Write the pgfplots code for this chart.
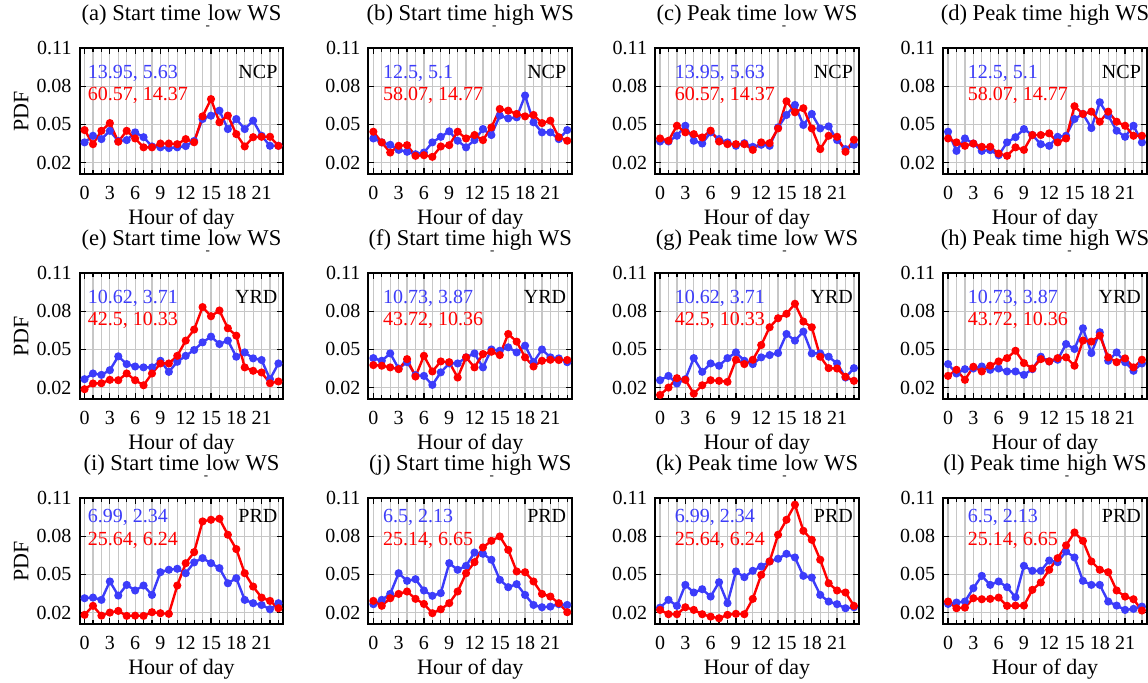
\documentclass[border=0pt]{standalone}
\usepackage{fontspec}
\setmainfont{Liberation Serif}
\usepackage{pgfplots}
\usepackage{pgfplotstable}
\pgfplotsset{compat=1.18}
\definecolor{myblue}{RGB}{60,60,250}

\pgfplotstableread{
h aB aR bB bR cB cR dB dR
0 .0359 .0456 .0390 .0443 .0366 .0390 .0443 .0390
1 .0411 .0345 .0359 .0359 .0366 .0372 .0292 .0359
2 .0385 .0450 .0340 .0279 .0411 .0490 .0390 .0332
3 .0450 .0511 .0300 .0332 .0490 .0438 .0350 .0350
4 .0370 .0364 .0285 .0337 .0372 .0424 .0292 .0324
5 .0377 .0450 .0266 .0253 .0350 .0398 .0298 .0324
6 .0438 .0390 .0279 .0258 .0438 .0451 .0258 .0271
7 .0400 .0320 .0359 .0245 .0385 .0366 .0359 .0253
8 .0327 .0320 .0403 .0327 .0359 .0345 .0400 .0320
9 .0320 .0350 .0446 .0337 .0332 .0345 .0464 .0300
10 .0314 .0350 .0372 .0443 .0353 .0345 .0417 .0417
11 .0320 .0345 .0320 .0390 .0324 .0300 .0345 .0417
12 .0330 .0385 .0377 .0417 .0340 .0359 .0332 .0430
13 .0370 .0360 .0464 .0377 .0332 .0353 .0403 .0359
14 .0543 .0564 .0417 .0477 .0477 .0469 .0411 .0390
15 .0569 .0700 .0570 .0622 .0575 .0683 .0543 .0644
16 .0609 .0517 .0548 .0609 .0654 .0596 .0583 .0583
17 .0464 .0570 .0556 .0583 .0496 .0628 .0472 .0601
18 .0543 .0424 .0728 .0564 .0583 .0469 .0675 .0522
19 .0464 .0327 .0517 .0575 .0469 .0306 .0570 .0601
20 .0530 .0400 .0438 .0511 .0485 .0411 .0451 .0522
21 .0411 .0403 .0438 .0530 .0377 .0403 .0403 .0490
22 .0332 .0403 .0385 .0400 .0306 .0285 .0490 .0411
23 .0332 .0332 .0456 .0372 .0340 .0380 .0359 .0411
}\rowA

\pgfplotstableread{
h eB eR fB fR gB gR hB hR
0 .0266 .0187 .0432 .0377 .0258 .0142 .0385 .0292
1 .0311 .0232 .0411 .0372 .0292 .0200 .0311 .0340
2 .0300 .0234 .0469 .0359 .0232 .0274 .0345 .0261
3 .0337 .0261 .0350 .0345 .0266 .0261 .0350 .0364
4 .0446 .0258 .0400 .0424 .0432 .0152 .0366 .0327
5 .0385 .0311 .0298 .0287 .0324 .0218 .0340 .0372
6 .0366 .0258 .0292 .0450 .0390 .0258 .0350 .0406
7 .0359 .0218 .0221 .0327 .0372 .0253 .0327 .0432
8 .0359 .0311 .0320 .0406 .0432 .0245 .0327 .0490
9 .0411 .0390 .0390 .0400 .0477 .0419 .0300 .0393
10 .0324 .0390 .0390 .0279 .0411 .0385 .0345 .0350
11 .0403 .0450 .0438 .0438 .0385 .0419 .0443 .0424
12 .0450 .0570 .0469 .0359 .0438 .0535 .0406 .0406
13 .0496 .0657 .0359 .0464 .0456 .0675 .0419 .0432
14 .0556 .0834 .0500 .0482 .0472 .0746 .0543 .0438
15 .0601 .0762 .0490 .0456 .0622 .0781 .0504 .0372
16 .0543 .0807 .0517 .0622 .0570 .0860 .0667 .0570
17 .0570 .0667 .0477 .0562 .0641 .0720 .0472 .0562
18 .0443 .0609 .0530 .0438 .0469 .0675 .0636 .0609
19 .0477 .0359 .0400 .0366 .0469 .0443 .0411 .0438
20 .0430 .0332 .0500 .0411 .0443 .0353 .0477 .0400
21 .0417 .0319 .0438 .0419 .0390 .0350 .0400 .0430
22 .0266 .0234 .0430 .0417 .0279 .0285 .0332 .0359
23 .0390 .0248 .0400 .0417 .0353 .0253 .0390 .0419
}\rowB

\pgfplotstableread{
h iB iR jB jR kB kR lB lR
0 .0313 .0182 .0266 .0292 .0239 .0221 .0268 .0287
1 .0318 .0253 .0300 .0253 .0300 .0187 .0279 .0234
2 .0300 .0176 .0347 .0313 .0253 .0187 .0287 .0239
3 .0445 .0200 .0510 .0347 .0418 .0242 .0392 .0313
4 .0334 .0213 .0450 .0366 .0358 .0221 .0489 .0305
5 .0418 .0174 .0463 .0308 .0384 .0187 .0418 .0308
6 .0374 .0176 .0374 .0268 .0326 .0168 .0445 .0318
7 .0413 .0174 .0332 .0195 .0439 .0155 .0400 .0253
8 .0339 .0203 .0353 .0226 .0274 .0182 .0321 .0255
9 .0518 .0195 .0589 .0274 .0524 .0190 .0568 .0255
10 .0537 .0190 .0537 .0366 .0479 .0187 .0529 .0379
11 .0545 .0413 .0568 .0510 .0529 .0308 .0529 .0437
12 .0510 .0589 .0673 .0597 .0563 .0497 .0610 .0537
13 .0595 .0676 .0663 .0713 .0603 .0603 .0597 .0629
14 .0629 .0918 .0616 .0765 .0624 .0813 .0681 .0729
15 .0589 .0931 .0458 .0800 .0663 .0931 .0634 .0831
16 .0550 .0939 .0400 .0694 .0634 .1050 .0450 .0765
17 .0431 .0813 .0424 .0524 .0489 .0844 .0418 .0603
18 .0471 .0700 .0339 .0518 .0476 .0773 .0418 .0537
19 .0300 .0510 .0260 .0445 .0339 .0616 .0287 .0518
20 .0274 .0405 .0242 .0347 .0287 .0431 .0255 .0374
21 .0260 .0318 .0247 .0326 .0266 .0374 .0221 .0326
22 .0226 .0292 .0266 .0274 .0234 .0358 .0229 .0305
23 .0274 .0234 .0260 .0203 .0242 .0253 .0247 .0216
}\rowC

\newcommand{\us}{\hspace{3.5pt}\makebox[0pt]{\raisebox{-4.6pt}{\fontsize{6.5}{6.5}\selectfont -}}}

\pgfplotsset{
  pnl/.style={
    width=102pt, height=62.85pt, scale only axis, anchor=north west,
    xmin=-0.6, xmax=23.6, ymin=0.011, ymax=0.11,
    xtick={0,3,...,21}, minor xtick={0,...,23},
    ytick={0.02,0.05,0.08,0.11},
    /pgf/number format/assume math mode=true,
    grid=both,
    major grid style={draw=black!22, line width=0.6pt},
    minor grid style={draw=black!22, line width=0.6pt},
    tick align=inside, major tick length=3pt, minor tick length=2pt,
    every tick/.style={black, line width=0.6pt},
    axis line style={line width=1pt},
    tick label style={font=\fontsize{10}{12}\selectfont},
    xticklabel style={anchor=base, yshift=-13pt, inner sep=0pt},
    yticklabel style={anchor=east, inner sep=0pt, xshift=-3.8pt,
      /pgf/number format/fixed, /pgf/number format/fixed zerofill,
      /pgf/number format/precision=2},
    xlabel={Hour of day},
    xlabel style={at={(axis description cs:0.5,0)}, anchor=base, yshift=-25.5pt, font=\fontsize{11}{13}\selectfont},
    title style={at={(axis description cs:0.5,1)}, anchor=base, yshift=8pt, font=\fontsize{11.3}{13}\selectfont},
    ylabel style={at={(axis description cs:-0.286,0.5)}, anchor=center, font=\fontsize{11}{13}\selectfont},
  },
  bl/.style={color=myblue, line width=1.2pt, mark=*, mark size=1.4pt},
  rd/.style={color=red, line width=1.2pt, mark=*, mark size=1.4pt},
}
\tikzset{
  tb/.style={anchor=base west, inner sep=0pt, text=myblue, font=\fontsize{10}{12}\selectfont},
  tr/.style={anchor=base west, inner sep=0pt, text=red, font=\fontsize{10}{12}\selectfont},
  tk/.style={anchor=base east, inner sep=0pt, text=black, font=\fontsize{10}{12}\selectfont},
}

\begin{document}
\begin{tikzpicture}
\useasboundingbox (0,0) rectangle (574pt,-341pt);
% ---------- row 1 ----------
\begin{axis}[pnl, at={(39.75pt,-24.15pt)}, title={(a) Start time\us low WS}, ylabel={PDF}]
\addplot[bl] table[x=h,y=aB]{\rowA};
\addplot[rd] table[x=h,y=aR]{\rowA};
\node[tb] at (rel axis cs:0.039,0.756) {13.95, 5.63};
\node[tr] at (rel axis cs:0.039,0.581) {60.57, 14.37};
\node[tk] at (rel axis cs:0.972,0.756) {NCP};
\end{axis}
\begin{axis}[pnl, at={(184.15pt,-24.15pt)}, title={(b) Start time\us high WS}]
\addplot[bl] table[x=h,y=bB]{\rowA};
\addplot[rd] table[x=h,y=bR]{\rowA};
\node[tb] at (rel axis cs:0.071,0.756) {12.5, 5.1};
\node[tr] at (rel axis cs:0.071,0.581) {58.07, 14.77};
\node[tk] at (rel axis cs:0.972,0.756) {NCP};
\end{axis}
\begin{axis}[pnl, at={(327.5pt,-24.15pt)}, title={(c) Peak time\us low WS}]
\addplot[bl] table[x=h,y=cB]{\rowA};
\addplot[rd] table[x=h,y=cR]{\rowA};
\node[tb] at (rel axis cs:0.096,0.756) {13.95, 5.63};
\node[tr] at (rel axis cs:0.096,0.581) {60.57, 14.37};
\node[tk] at (rel axis cs:0.972,0.756) {NCP};
\end{axis}
\begin{axis}[pnl, at={(471.5pt,-24.15pt)}, title={(d) Peak time\us high WS}]
\addplot[bl] table[x=h,y=dB]{\rowA};
\addplot[rd] table[x=h,y=dR]{\rowA};
\node[tb] at (rel axis cs:0.12,0.756) {12.5, 5.1};
\node[tr] at (rel axis cs:0.12,0.581) {58.07, 14.77};
\node[tk] at (rel axis cs:0.972,0.756) {NCP};
\end{axis}
% ---------- row 2 ----------
\begin{axis}[pnl, at={(39.75pt,-136.65pt)}, title={(e) Start time\us low WS}, ylabel={PDF}]
\addplot[bl] table[x=h,y=eB]{\rowB};
\addplot[rd] table[x=h,y=eR]{\rowB};
\node[tb] at (rel axis cs:0.039,0.756) {10.62, 3.71};
\node[tr] at (rel axis cs:0.039,0.581) {42.5, 10.33};
\node[tk] at (rel axis cs:0.972,0.756) {YRD};
\end{axis}
\begin{axis}[pnl, at={(184.15pt,-136.65pt)}, title={(f) Start time\us high WS}]
\addplot[bl] table[x=h,y=fB]{\rowB};
\addplot[rd] table[x=h,y=fR]{\rowB};
\node[tb] at (rel axis cs:0.071,0.756) {10.73, 3.87};
\node[tr] at (rel axis cs:0.071,0.581) {43.72, 10.36};
\node[tk] at (rel axis cs:0.972,0.756) {YRD};
\end{axis}
\begin{axis}[pnl, at={(327.5pt,-136.65pt)}, title={(g) Peak time\us low WS}]
\addplot[bl] table[x=h,y=gB]{\rowB};
\addplot[rd] table[x=h,y=gR]{\rowB};
\node[tb] at (rel axis cs:0.096,0.756) {10.62, 3.71};
\node[tr] at (rel axis cs:0.096,0.581) {42.5, 10.33};
\node[tk] at (rel axis cs:0.972,0.756) {YRD};
\end{axis}
\begin{axis}[pnl, at={(471.5pt,-136.65pt)}, title={(h) Peak time\us high WS}]
\addplot[bl] table[x=h,y=hB]{\rowB};
\addplot[rd] table[x=h,y=hR]{\rowB};
\node[tb] at (rel axis cs:0.12,0.756) {10.73, 3.87};
\node[tr] at (rel axis cs:0.12,0.581) {43.72, 10.36};
\node[tk] at (rel axis cs:0.972,0.756) {YRD};
\end{axis}
% ---------- row 3 ----------
\begin{axis}[pnl, at={(39.75pt,-249.15pt)}, title={(i) Start time\us low WS}, ylabel={PDF}]
\addplot[bl] table[x=h,y=iB]{\rowC};
\addplot[rd] table[x=h,y=iR]{\rowC};
\node[tb] at (rel axis cs:0.039,0.806) {6.99, 2.34};
\node[tr] at (rel axis cs:0.039,0.628) {25.64, 6.24};
\node[tk] at (rel axis cs:0.972,0.806) {PRD};
\end{axis}
\begin{axis}[pnl, at={(184.15pt,-249.15pt)}, title={(j) Start time\us high WS}]
\addplot[bl] table[x=h,y=jB]{\rowC};
\addplot[rd] table[x=h,y=jR]{\rowC};
\node[tb] at (rel axis cs:0.071,0.806) {6.5, 2.13};
\node[tr] at (rel axis cs:0.071,0.628) {25.14, 6.65};
\node[tk] at (rel axis cs:0.972,0.806) {PRD};
\end{axis}
\begin{axis}[pnl, at={(327.5pt,-249.15pt)}, title={(k) Peak time\us low WS}]
\addplot[bl] table[x=h,y=kB]{\rowC};
\addplot[rd] table[x=h,y=kR]{\rowC};
\node[tb] at (rel axis cs:0.096,0.806) {6.99, 2.34};
\node[tr] at (rel axis cs:0.096,0.628) {25.64, 6.24};
\node[tk] at (rel axis cs:0.972,0.806) {PRD};
\end{axis}
\begin{axis}[pnl, at={(471.5pt,-249.15pt)}, title={(l) Peak time\us high WS}]
\addplot[bl] table[x=h,y=lB]{\rowC};
\addplot[rd] table[x=h,y=lR]{\rowC};
\node[tb] at (rel axis cs:0.12,0.806) {6.5, 2.13};
\node[tr] at (rel axis cs:0.12,0.628) {25.14, 6.65};
\node[tk] at (rel axis cs:0.972,0.806) {PRD};
\end{axis}
\end{tikzpicture}
\end{document}
